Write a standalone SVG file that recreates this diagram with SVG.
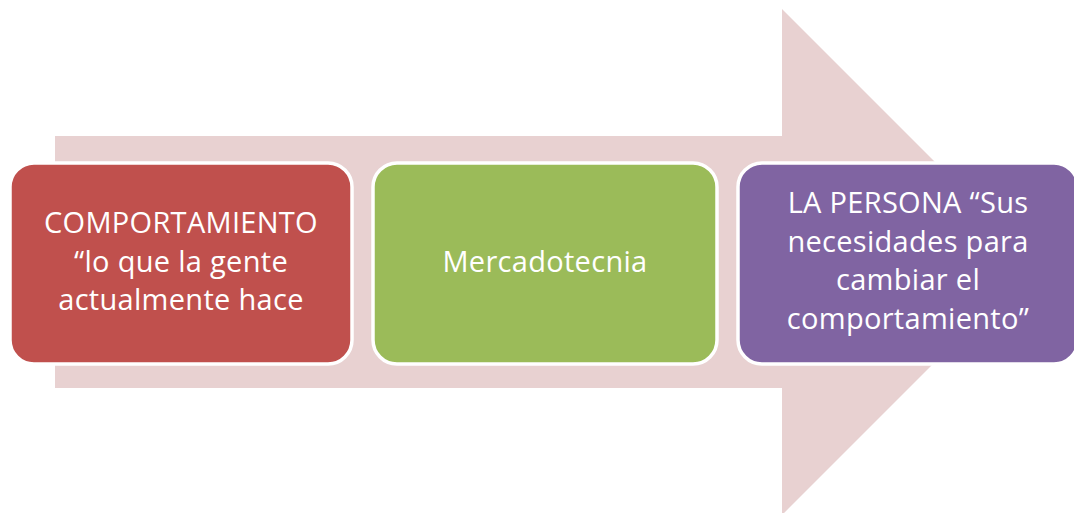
<svg xmlns="http://www.w3.org/2000/svg" width="1074" height="513" viewBox="0 0 1074 513">
<style>
.box{stroke:#ffffff;stroke-width:3.5}
.t{fill:#ffffff;font-family:"Open Sans","Liberation Sans",Arial,sans-serif;font-size:29px;letter-spacing:0.3px;text-anchor:middle}
</style>
<rect width="1074" height="513" fill="#ffffff"/>
<g id="arrow">
<polygon points="55,136 782,136 782,9 1035,262 782,515 782,388 55,388" fill="#E8D1D1"/>
</g>
<g id="node1">
<rect class="box" x="10" y="163" width="342" height="201" rx="24" fill="#C0504D"/>
<text class="t" x="181" y="233">COMPORTAMIENTO</text>
<text class="t" x="181" y="271.5">“lo que la gente</text>
<text class="t" x="181" y="310">actualmente hace</text>
</g>
<g id="node2">
<rect class="box" x="373" y="163" width="344" height="201" rx="24" fill="#9BBB59"/>
<text class="t" x="545" y="272">Mercadotecnia</text>
</g>
<g id="node3">
<rect class="box" x="738" y="163" width="340" height="201" rx="24" fill="#8064A2"/>
<text class="t" x="908" y="213">LA PERSONA “Sus</text>
<text class="t" x="908" y="251.5">necesidades para</text>
<text class="t" x="908" y="290">cambiar el</text>
<text class="t" x="908" y="328.5">comportamiento”</text>
</g>
<g id="connectors"></g>
</svg>
